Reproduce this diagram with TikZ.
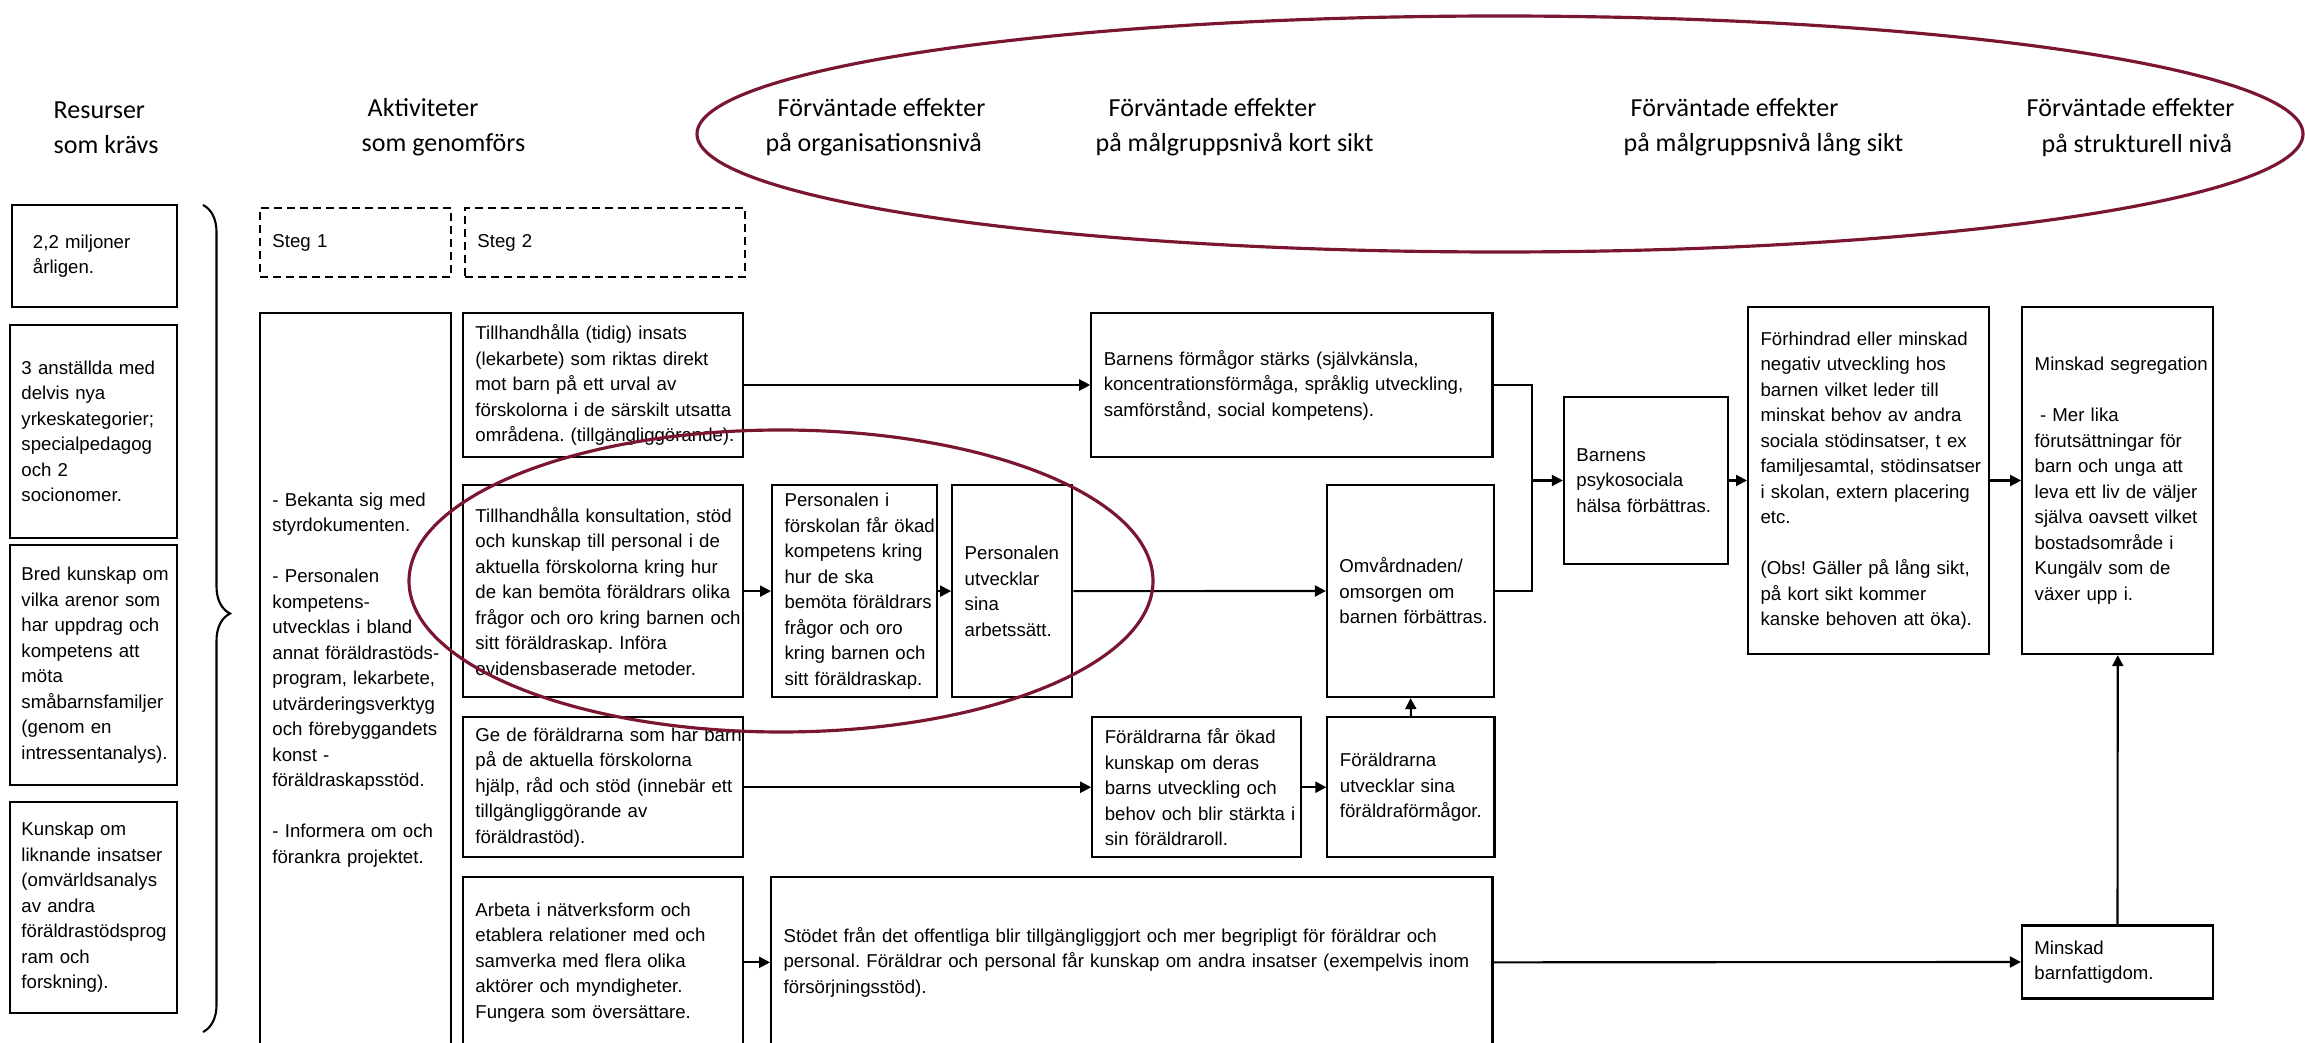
\documentclass[tikz,border=0pt]{standalone}
\usepackage{fontspec}
\setmainfont{Liberation Sans}
\newfontfamily\headfont{Carlito}
\usetikzlibrary{arrows.meta,positioning,decorations.pathreplacing}

\definecolor{ringred}{RGB}{122,22,48}
\newcommand{\boxfont}{\fontsize{5.3}{7.25}\selectfont\frenchspacing}
\newcommand{\hdfont}{\headfont\fontsize{7.4}{10}\selectfont}

\tikzset{
  flowbox/.style={draw, line width=.6pt, rectangle, align=left, inner xsep=.15mm,
    inner ysep=0pt, font=\boxfont,
    execute at begin node={\leftskip=#1\rightskip=-3mm plus 1fil}},
  flowbox/.default=1.1mm,
  dims/.style 2 args={minimum width=#1, text width=#1-.3mm, minimum height=#2},
  stegbox/.style={flowbox, dash pattern=on 2.3pt off 1.4pt},
  heading/.style={font=\hdfont, align=left, anchor=west, inner sep=0pt},
  flow/.style={line width=.6pt, -{Triangle[length=1.1mm,width=1.1mm]}},
  link/.style={line width=.6pt},
  ring/.style={draw=ringred, line width=.9pt}
}

\begin{document}
\begin{tikzpicture}[x=0.01cm, y=-0.01cm]
\useasboundingbox (0,0) rectangle (2305,1043);

% rubriker
\node[heading] (hdRes) at (53,127.5) {Resurser\\som krävs};
\node[heading] (hdAkt) at (361,127.5) {\hspace*{.6mm}Aktiviteter\\som genomförs};
\node[heading] (hdOrg) at (765,127.5) {\hspace*{1.2mm}Förväntade effekter\\på organisationsnivå};
\node[heading] (hdKort) at (1095,127.5) {\hspace*{1.3mm}Förväntade effekter\\på målgruppsnivå kort sikt};
\node[heading] (hdLang) at (1623,127.5) {\hspace*{.7mm}Förväntade effekter\\på målgruppsnivå lång sikt};
\node[heading] (hdStrukt) at (2026,127.5) {Förväntade effekter\\\hspace*{1.5mm}på strukturell nivå};

% resurser
\node[flowbox=1.95mm, dims={1.65cm}{1.02cm}] (res1) at (94.5,256) {2,2 miljoner\\årligen.};
\node[flowbox=1mm, dims={1.67cm}{2.13cm}] (res2) at (93.5,431.5) {3 anställda med\\delvis nya\\yrkeskategorier;\\specialpedagog\\och 2\\socionomer.};
\node[flowbox=1mm, dims={1.67cm}{2.40cm}] (res3) at (93.5,665) {Bred kunskap om\\vilka arenor som\\har uppdrag och\\kompetens att\\möta\\småbarnsfamiljer\\(genom en\\intressentanalys).};
\node[flowbox=1mm, dims={1.67cm}{2.11cm}] (res4) at (93.5,907.5) {Kunskap om\\liknande insatser\\(omvärldsanalys\\av andra\\föräldrastödsprog\\ram och\\forskning).};

\coordinate (braceTop) at (203,205);
\coordinate (braceBot) at (203,1032);
\draw[link, decorate, decoration={brace, amplitude=2.7mm, aspect=.494}] (braceTop) -- (braceBot);

% aktiviteter
\node[stegbox, dims={1.91cm}{.69cm}] (steg1) at (355.5,242.5) {Steg 1};
\node[stegbox, dims={2.80cm}{.69cm}] (steg2) at (605,242.5) {Steg 2};
\node[flowbox, dims={1.91cm}{7.34cm}] (akt0) at (355.5,680) {- Bekanta sig med\\styrdokumenten.\\[7.25pt]- Personalen\\kompetens-\\utvecklas i bland\\annat föräldrastöds-\\program, lekarbete,\\utvärderingsverktyg\\och förebyggandets\\konst -\\föräldraskapsstöd.\\[7.25pt]- Informera om och\\förankra projektet.};

\node[flowbox, dims={2.8cm}{1.44cm}] (akt1) at (603,385) {Tillhandhålla (tidig) insats\\(lekarbete) som riktas direkt\\mot barn på ett urval av\\förskolorna i de särskilt utsatta\\områdena. (tillgängliggörande).};
\node[flowbox, dims={2.8cm}{2.12cm}, below of=akt1, node distance=2.06cm] (akt2) {Tillhandhålla konsultation, stöd\\och kunskap till personal i de\\aktuella förskolorna kring hur\\de kan bemöta föräldrars olika\\frågor och oro kring barnen och\\sitt föräldraskap. Införa\\evidensbaserade metoder.};
\node[flowbox, dims={2.8cm}{1.40cm}, below of=akt2, node distance=1.96cm] (akt3) {Ge de föräldrarna som har barn\\på de aktuella förskolorna\\hjälp, råd och stöd (innebär ett\\tillgängliggörande av\\föräldrastöd).};
\node[flowbox, dims={2.8cm}{1.70cm}, below of=akt3, node distance=1.75cm] (akt4) {Arbeta i nätverksform och\\etablera relationer med och\\samverka med flera olika\\aktörer och myndigheter.\\Fungera som översättare.};

% organisationsniva
\node[flowbox, dims={1.65cm}{2.12cm}, right of=akt2, node distance=2.515cm] (org1) {Personalen i\\förskolan får ökad\\kompetens kring\\hur de ska\\bemöta föräldrars\\frågor och oro\\kring barnen och\\sitt föräldraskap.};
\node[flowbox, dims={1.2cm}{2.12cm}, right of=org1, node distance=1.575cm] (org2) {Personalen\\utvecklar\\sina\\arbetssätt.};

% malgrupp kort sikt
\node[flowbox, dims={4.01cm}{1.44cm}, right of=akt1, node distance=6.885cm] (kort1) {Barnens förmågor stärks (självkänsla,\\koncentrationsförmåga, språklig utveckling,\\samförstånd, social kompetens).};
\node[flowbox, dims={1.67cm}{2.12cm}] (kort2) at (1410.5,591) {Omvårdnaden/\\omsorgen om\\barnen förbättras.};
\node[flowbox, dims={2.09cm}{1.40cm}, right of=akt3, node distance=5.935cm] (kort3) {Föräldrarna får ökad\\kunskap om deras\\barns utveckling och\\behov och blir stärkta i\\sin föräldraroll.};
\node[flowbox, dims={1.67cm}{1.40cm}, right of=kort3, node distance=2.14cm] (kort4) {Föräldrarna\\utvecklar sina\\föräldraförmågor.};
\node[flowbox, dims={7.21cm}{1.70cm}, right of=akt4, node distance=5.285cm] (kort5) {Stödet från det offentliga blir tillgängliggjort och mer begripligt för föräldrar och\\personal. Föräldrar och personal får kunskap om andra insatser (exempelvis inom\\försörjningsstöd).};

% malgrupp lang sikt
\node[flowbox, dims={1.64cm}{1.67cm}] (lang1) at (1646,480.5) {Barnens\\psykosociala\\hälsa förbättras.};
\node[flowbox, dims={2.41cm}{3.47cm}, right of=lang1, node distance=2.225cm] (lang2) {Förhindrad eller minskad\\negativ utveckling hos\\barnen vilket leder till\\minskat behov av andra\\sociala stödinsatser, t ex\\familjesamtal, stödinsatser\\i skolan, extern placering\\etc.\\[7.25pt](Obs! Gäller på lång sikt,\\på kort sikt kommer\\kanske behoven att öka).};

% strukturell niva
\node[flowbox, dims={1.91cm}{3.47cm}, right of=lang2, node distance=2.49cm] (strukt1) {Minskad segregation\\[7.25pt]\hspace*{1.5pt}- Mer lika\\förutsättningar för\\barn och unga att\\leva ett liv de väljer\\själva oavsett vilket\\bostadsområde i\\Kungälv som de\\växer upp i.};
\node[flowbox, dims={1.91cm}{.73cm}] (strukt2) at (2117.5,962) {Minskad\\barnfattigdom.};

\coordinate (join) at (1532,480.5);

% pilar
\draw[flow] (akt1.east) -- (kort1.west);
\draw[flow] (akt2.east) -- (org1.west);
\draw[flow] (org1.east) -- (org2.west);
\draw[flow] (org2.east) -- (kort2.west);
\draw[flow] (akt3.east) -- (kort3.west);
\draw[flow] (kort3.east) -- (kort4.west);
\draw[flow] (kort4.north) -- (kort2.south);
\draw[flow] (akt4.east) -- (kort5.west);
\draw[flow] (kort5.east) -- (strukt2.west);
\draw[flow] (strukt2.north) -- (strukt1.south);
\draw[flow] (kort1.east) -| (join) -- (lang1.west);
\draw[link] (kort2.east) -| (join);
\draw[flow] (lang1.east) -- (lang2.west);
\draw[flow] (lang2.east) -- (strukt1.west);

% ringar
\draw[ring] (1500,134) ellipse [x radius=803, y radius=118];
\draw[ring] (781,581) ellipse [x radius=372, y radius=151];
\end{tikzpicture}
\end{document}
